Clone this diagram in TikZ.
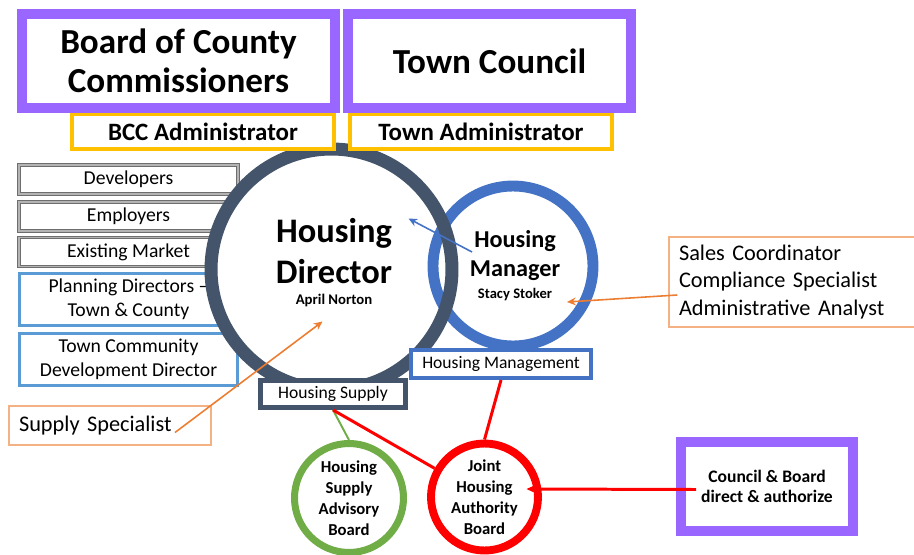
\documentclass[tikz,border=0pt]{standalone}
\usepackage{fontspec}
\setmainfont{Carlito}
\usepackage{tikz}
\usetikzlibrary{positioning}
\usetikzlibrary{arrows.meta}
\tikzset{>=stealth}
\definecolor{board}{HTML}{9966FF}
\definecolor{gold}{HTML}{FFC000}
\definecolor{navy}{HTML}{44546A}
\definecolor{hmblue}{HTML}{4472C4}
\definecolor{ltblue}{HTML}{5B9BD5}
\definecolor{orng}{HTML}{ED7D31}
\definecolor{peach}{HTML}{F4B183}
\definecolor{grn}{HTML}{70AD47}
\definecolor{partyline}{HTML}{6E6E6E}
\definecolor{partyfill}{HTML}{B4B4B4}
\tikzstyle{line} = [draw, -{Stealth[length=5pt,width=4.5pt]}]

\begin{document}
\begin{tikzpicture}[x=0.02cm, y=-0.02cm,
	board/.style={draw=board, line width=5.7pt, fill=white, rectangle,
		align=center, inner sep=0pt},
	admin/.style={draw=gold, line width=2.3pt, fill=white, rectangle,
		minimum width=5.24cm, minimum height=0.7cm, inner sep=0pt,
		font=\fontsize{14.2}{17}\selectfont\bfseries},
	party/.style={draw=partyline, double=partyfill, double distance=1.1pt,
		line width=0.55pt, fill=white, rectangle, inner sep=0pt,
		minimum width=4.38cm, minimum height=0.58cm,
		font=\fontsize{11.2}{13.6}\selectfont},
	planning/.style={draw=ltblue, line width=1.7pt, fill=white, rectangle,
		inner sep=0pt, align=center, minimum width=4.38cm, minimum height=1.04cm,
		font=\fontsize{11.2}{13.4}\selectfont},
	staff/.style={draw=peach, line width=0.9pt, rectangle, align=left,
		inner xsep=0.2cm, font=\fontsize{12.7}{15.9}\selectfont},
	ring/.style={circle, inner sep=0pt, align=center},
	unit/.style={rectangle, fill=white, inner sep=0pt,
		font=\fontsize{10}{12}\selectfont}]
	\useasboundingbox (0,0) rectangle (914,555);
	%% Partners
	\node [party] at (128.5,179.5) (DEV) {Developers};
	\node [party] at (128.5,216.5) (EMP) {Employers};
	\node [party] at (128.5,252) (MKT) {Existing Market};
	\node [planning] at (128.5,299.5) (PD) {Planning Directors --\\Town \& County};
	\node [planning] at (128.5,359.5) (TCDD) {Town Community\\Development Director};
	%% Directors
	\node [ring, fill=white, minimum size=4.82cm] at (331.5,269.5) (HD) {};
	\node [ring, draw=hmblue, line width=6.2pt, fill=white, minimum size=3.2cm] at (513,266) (HM) {};
	\node [ring, draw=navy, line width=7.4pt, minimum size=4.82cm] at (HD) {};
	\node [align=center, font=\fontsize{19.6}{23.2}\selectfont\bfseries] at (334,251) (HDtext) {Housing\\Director};
	\node [font=\fontsize{8.4}{10}\selectfont\bfseries] at (334,300) (HDname) {April Norton};
	\node [align=center, font=\fontsize{13.8}{16.4}\selectfont\bfseries] at (515,255.5) (HMtext) {Housing\\Manager};
	\node [font=\fontsize{8.3}{10}\selectfont\bfseries] at (515,295) (HMname) {Stacy Stoker};
	%% Boards
	\node [admin] at (203,131.5) (BCCA) {BCC Administrator};
	\node [admin] at (481,131.5) (TA) {Town Administrator};
	\node [board, minimum width=6.26cm, minimum height=1.88cm,
		font=\fontsize{20}{22.1}\selectfont\bfseries] at (178.5,61) (BCC) {Board of County\\Commissioners};
	\node [board, minimum width=5.66cm, minimum height=1.88cm,
		font=\fontsize{20}{22.1}\selectfont\bfseries] at (489.5,61) (TC) {Town Council};
	%% Units
	\node [unit, draw=navy, line width=2.8pt, minimum width=2.9cm, minimum height=0.54cm] at (333,394) (HS) {Housing Supply};
	\node [unit, draw=hmblue, line width=2.3pt, minimum width=3.6cm, minimum height=0.56cm] at (501,364) (HMg) {Housing Management};
	\node [ring, draw=grn, line width=4pt, minimum size=2.18cm,
		font=\fontsize{9.5}{11.9}\selectfont\bfseries] at (349,498) (HSAB) {Housing\\Supply\\Advisory\\Board};
	\node [ring, draw=red, line width=4.5pt, minimum size=2.14cm,
		font=\fontsize{9.5}{11.9}\selectfont\bfseries] at (484.5,497) (JHAB) {Joint\\Housing\\Authority\\Board};
	\node [board, minimum width=3.44cm, minimum height=1.78cm,
		font=\fontsize{10}{11.3}\selectfont\bfseries] at (767,486.5) (CB) {Council \& Board\\direct \& authorize};
	%% Staff
	\node [staff, text width=3.64cm, minimum height=0.78cm] at (110,425.5) (SS) {Supply Specialist};
	\node [staff, text width=4.62cm, minimum height=1.8cm] at (794.5,282) (SC) {Sales Coordinator\\Compliance Specialist\\Administrative Analyst};
	%% Links
	\draw [grn, line width=1.1pt] (HS.south) -- (HSAB.north);
	\draw [red, line width=1.7pt] (HS.south) -- (JHAB);
	\draw [red, line width=1.7pt] (HMg.south) -- (JHAB.north);
	\path [line, draw=hmblue, line width=0.9pt] ([shift={(-41,-14)}]HM.center) to ([shift={(77,-51)}]HD.center);
	\path [line, draw=orng, line width=0.9pt] ([shift={(65,7)}]SS.center) to ([shift={(-9,52)}]HD.center);
	\path [line, draw=orng, line width=0.9pt] ([shift={(9,13)}]SC.west) to ([shift={(54,36)}]HM.center);
	\path [line, draw=red, line width=1.7pt] ([shift={(20,3)}]CB.west) to ([shift={(42,-8)}]JHAB.center);
\end{tikzpicture}
\end{document}
